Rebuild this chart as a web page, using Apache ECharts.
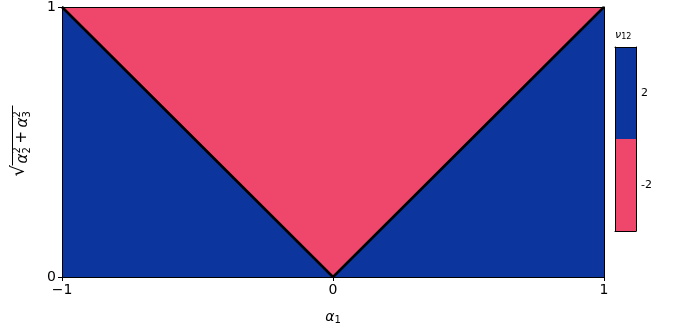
<!DOCTYPE html>
<html>
<head>
<meta charset="utf-8">
<script src="https://cdn.jsdelivr.net/npm/echarts@6/dist/echarts.min.js"></script>
<style>
  html, body { margin: 0; padding: 0; background: #fff; }
  #chart { width: 692px; height: 332px; }
</style>
</head>
<body>
<div id="chart"></div>
<script>
// boundary of the two regions (V shape)
const alpha1 = [-1, 0, 1];
const boundary = [1, 0, 1];
// region values shown in colorbar
const nuValues = [2, -2];
const nuColors = ['#0c369d', '#ef466b'];
const xTicks = [-1, 0, 1];
const yTicks = [0, 1];

const chart = echarts.init(document.getElementById('chart'));
const font = 'DejaVu Sans';

const vData = alpha1.map((x, i) => [x, boundary[i]]);

// thin frame line for the box axes
const frame = { show: true, onZero: false, lineStyle: { color: '#000', width: 1 } };

const txt = (s, x, y, size, italic) => ({
  type: 'text', x: x, y: y,
  style: { text: s, fontSize: size, fontFamily: font, fontStyle: italic ? 'italic' : 'normal', fill: '#000' }
});

chart.setOption({
  animation: false,
  textStyle: { fontFamily: font },
  grid: [
    { left: 62, right: 88, top: 6, bottom: 55, show: true, backgroundColor: nuColors[0], borderWidth: 0 },
    { left: 615, width: 21, top: 47, height: 184 }
  ],
  xAxis: [
    {
      type: 'value', gridIndex: 0, min: -1, max: 1, interval: 1,
      axisLine: frame,
      axisTick: { length: 4, lineStyle: { color: '#000' } },
      splitLine: { show: false },
      axisLabel: { color: '#000', fontSize: 14, margin: 6,
        formatter: v => (v < 0 ? '\u2212' + Math.abs(v) : String(v)) },
      name: '{a|α}{s|1}', nameLocation: 'middle', nameGap: 32,
      nameTextStyle: { rich: {
        a: { fontSize: 14, fontStyle: 'italic', fontFamily: font, color: '#000' },
        s: { fontSize: 10, fontFamily: font, color: '#000', verticalAlign: 'bottom', padding: [6, 0, 0, 0] }
      } },
      z: 10
    },
    {
      type: 'value', gridIndex: 0, min: -1, max: 1, position: 'top',
      axisLine: frame,
      axisTick: { show: false }, axisLabel: { show: false }, splitLine: { show: false },
      z: 10
    },
    {
      type: 'category', gridIndex: 1, data: ['ν'], position: 'bottom',
      axisLine: frame,
      axisTick: { show: false }, axisLabel: { show: false }, z: 10
    },
    {
      type: 'category', gridIndex: 1, data: ['ν'], position: 'top',
      axisLine: frame,
      axisTick: { show: false }, axisLabel: { show: false }, z: 10
    }
  ],
  yAxis: [
    {
      type: 'value', gridIndex: 0, min: 0, max: 1, interval: 1,
      axisLine: frame,
      axisTick: { show: true, length: 4, lineStyle: { color: '#000' } },
      splitLine: { show: false },
      axisLabel: { color: '#000', fontSize: 14, margin: 6 },
      z: 10
    },
    {
      type: 'value', gridIndex: 0, min: 0, max: 1, position: 'right',
      axisLine: frame,
      axisTick: { show: false }, axisLabel: { show: false }, splitLine: { show: false },
      z: 10
    },
    {
      type: 'value', gridIndex: 1, min: -4, max: 4, position: 'left',
      axisLine: frame,
      axisTick: { show: false }, axisLabel: { show: false }, splitLine: { show: false },
      name: '{v|ν}{s|12}', nameLocation: 'end', nameGap: 6,
      nameTextStyle: { align: 'left', rich: {
        v: { fontSize: 11, fontStyle: 'italic', fontFamily: font, color: '#000' },
        s: { fontSize: 8, fontFamily: font, color: '#000', padding: [4, 0, 0, 0] }
      } },
      z: 10
    },
    {
      type: 'value', gridIndex: 1, min: -4, max: 4, position: 'right',
      axisLine: frame,
      axisTick: { show: false },
      axisLabel: { color: '#000', fontSize: 11, margin: 5, customValues: nuValues },
      splitLine: { show: false },
      z: 10
    }
  ],
  series: [
    {
      type: 'line', xAxisIndex: 0, yAxisIndex: 0,
      data: vData, showSymbol: false, silent: true,
      lineStyle: { color: '#000', width: 2.6 },
      areaStyle: { color: nuColors[1], opacity: 1, origin: 'end' },
      z: 3
    },
    ...nuValues.map((v, i) => ({
      type: 'bar', xAxisIndex: 2, yAxisIndex: 2,
      stack: 'cb', barWidth: '100%', silent: true,
      data: [v * 2],
      itemStyle: { color: nuColors[i] }
    }))
  ],
  graphic: [
    {
      type: 'group', left: 10, top: 103, rotation: Math.PI / 2,
      children: [
        txt('√', 0, 1, 18, false),
        { type: 'line', shape: { x1: 11, y1: 3, x2: 71, y2: 3 }, style: { stroke: '#000', lineWidth: 1 } },
        txt('α', 13, 6, 15, true),
        txt('2', 23, 3, 10, false),
        txt('2', 23, 13, 10, false),
        txt('+', 33, 5, 15, false),
        txt('α', 49, 6, 15, true),
        txt('2', 59, 3, 10, false),
        txt('3', 59, 13, 10, false)
      ]
    }
  ]
});
</script>
</body>
</html>
